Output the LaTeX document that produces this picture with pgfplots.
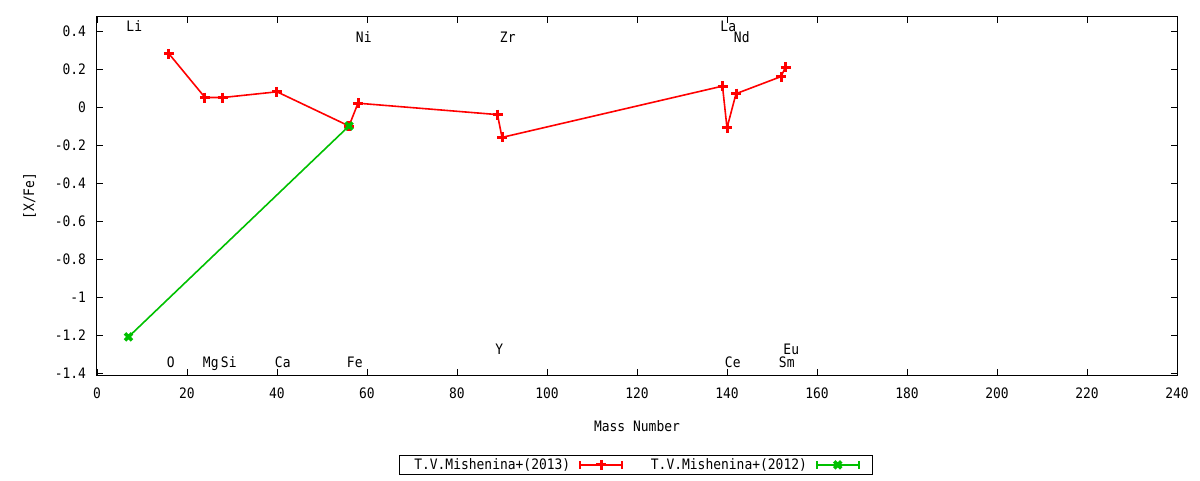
\documentclass[border=0pt]{standalone}
\usepackage{fontspec}
\setmainfont{DejaVu Sans Mono}[FakeStretch=0.9]
\usepackage{pgfplots}
\pgfplotsset{compat=1.18}
\definecolor{gred}{RGB}{255,0,0}
\definecolor{ggreen}{RGB}{0,192,0}
\newcommand{\gfont}{\fontsize{14.4}{16}\selectfont}
\begin{document}
\gfont
\begin{tikzpicture}
\begin{axis}[
  at={(0pt,0pt)}, anchor=south west,
  scale only axis, width=1080pt, height=358pt,
  xmin=0, xmax=240, ymin=-1.4105, ymax=0.4737,
  xtick={0,20,...,240},
  ytick={-1.4,-1.2,-1,-0.8,-0.6,-0.4,-0.2,0,0.2,0.4},
  yticklabels={-1.4,-1.2,-1,-0.8,-0.6,-0.4,-0.2,0,0.2,0.4},
  xticklabels={0,20,40,60,80,100,120,140,160,180,200,220,240},
  tick align=inside, major tick length=6pt,
  axis line style={line width=1pt}, tick style={line width=0.8pt, black},
  xlabel={Mass Number}, ylabel={[X/Fe]},
  xticklabel style={yshift=-8pt},
  yticklabel style={xshift=-6pt},
  xlabel style={yshift=-12pt},
  ylabel style={yshift=9pt},
  tick label style={font=\gfont},
  label style={font=\gfont},
  /pgf/number format/assume math mode=true,
  legend columns=2,
  legend plot pos=right,
  legend style={at={(0.499,-0.251)}, anchor=center, draw=black, line width=0.8pt,
    font=\gfont, inner xsep=13pt, inner ysep=1pt,
    /tikz/every odd column/.append style={column sep=7pt},
    /tikz/every even column/.append style={column sep=26pt}},
  legend image code/.code={%
    \draw[#1,mark repeat=2,mark phase=2] plot coordinates {(0pt,0pt) (21pt,0pt) (42pt,0pt)};
    \draw[#1,mark=none] (0pt,-4pt) -- (0pt,4pt) (42pt,-4pt) -- (42pt,4pt);
  },
]
\addplot[color=gred, line width=1.6pt, mark=+, mark size=5pt, mark options={line width=3pt}]
coordinates {
(16,0.28) (24,0.05) (28,0.05) (40,0.08) (56,-0.10) (58,0.02) (89,-0.04) (90,-0.16)
(139,0.11) (140,-0.11) (142,0.07) (152,0.16) (153,0.21)
};
\addlegendentry{T.V.Mishenina+(2013)}
\addplot[color=ggreen, line width=1.6pt, mark=x, mark size=5pt, mark options={line width=3.5pt}]
coordinates {(7,-1.21) (56,-0.10)};
\addlegendentry{T.V.Mishenina+(2012)}
\begin{scope}[every node/.style={anchor=base west, inner sep=0pt, font=\gfont}]
\node at (axis cs:6.5,0.395) {Li};
\node at (axis cs:57.5,0.342) {Ni};
\node at (axis cs:89.5,0.342) {Zr};
\node at (axis cs:138.5,0.395) {La};
\node at (axis cs:141.5,0.342) {Nd};
\node at (axis cs:15.5,-1.373) {O};
\node at (axis cs:23.5,-1.373) {Mg};
\node at (axis cs:27.5,-1.373) {Si};
\node at (axis cs:39.5,-1.373) {Ca};
\node at (axis cs:55.5,-1.373) {Fe};
\node at (axis cs:88.5,-1.300) {Y};
\node at (axis cs:139.5,-1.373) {Ce};
\node at (axis cs:151.5,-1.373) {Sm};
\node at (axis cs:152.5,-1.300) {Eu};
\end{scope}
\end{axis}
\path[use as bounding box] (-97pt,-105pt) rectangle (1103pt,375pt);
\end{tikzpicture}
\end{document}
